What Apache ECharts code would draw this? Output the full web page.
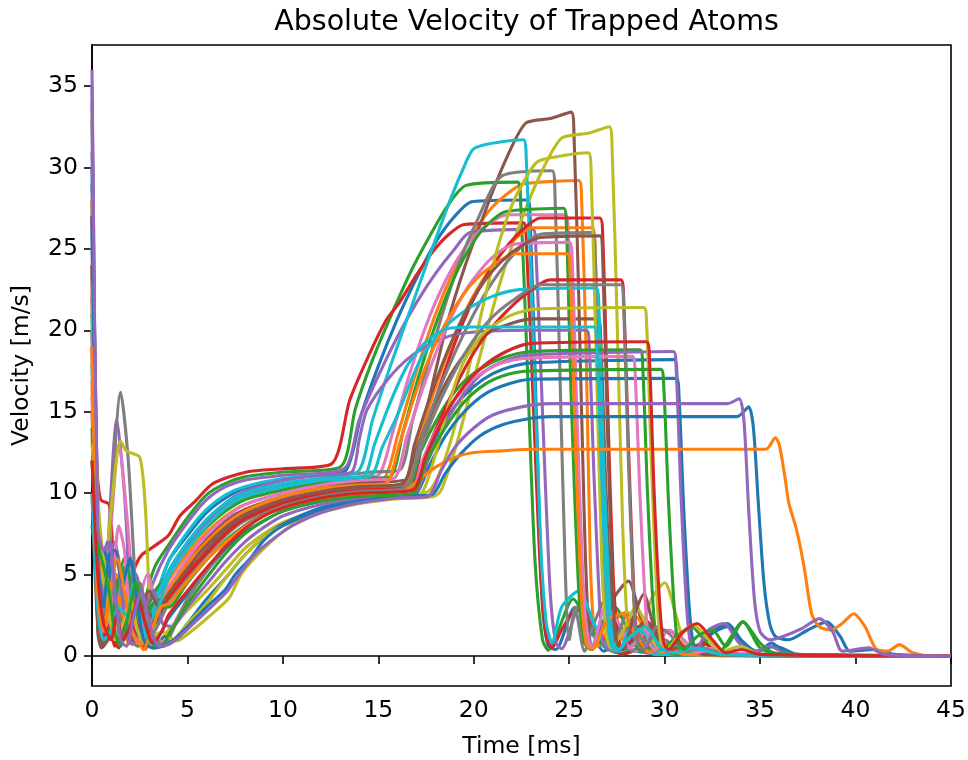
<!DOCTYPE html>
<html><head><meta charset="utf-8">
<script src="https://cdn.jsdelivr.net/npm/echarts@6/dist/echarts.min.js"></script>
<style>html,body{margin:0;padding:0;background:#fff}#c{width:968px;height:760px}</style>
</head><body><div id="c"></div>
<script>
const xTicks = [0,5,10,15,20,25,30,35,40,45];
const yTicks = [0,5,10,15,20,25,30,35];

const blueH = [[0,30],[0.25,12],[0.5,5.5],[0.8,6.3],[1.1,4],[1.5,3.5],[1.9,6.5],[2.3,3],[2.7,1.2],[3.2,3.0],[4,5.8],[5,7.4],[6,8.8],[7,9.7],[8,10.3],[10,10.8],[12,11.2],[13.3,11.4],[14.1,14.8],[15,17.8],[16,20.7],[17,23.2],[18,25.4],[19,27.0],[19.9,27.9],[22.8,28.0],[22.95,27],[23.3,14],[23.6,3],[23.9,0.6],[24.3,0.4],[25.3,3.0],[26.3,1.2],[26.8,0.3],[27.5,0.6],[28.5,0.3],[30,0.1],[45,0]];
const orangeG = [[0,27],[0.3,6],[0.5,2.8],[0.9,4.5],[1.3,2.5],[1.8,5],[2.2,2],[2.6,0.6],[3,1.8],[3.5,3.5],[4,4.6],[5,6.3],[6,7.6],[7,8.6],[8,9.3],[10,10.0],[12,10.4],[14,10.7],[15.3,10.9],[16.0,13.5],[17.0,17.5],[18.0,21.0],[19.0,23.8],[20.0,26.0],[21.0,27.6],[22.0,28.6],[22.6,29.0],[25.5,29.2],[25.65,28],[25.9,18],[26.1,6],[26.3,1.5],[26.5,0.6],[27.2,2.0],[28.0,2.7],[28.8,1.2],[29.5,0.3],[30.5,0.6],[31.5,0.2],[33,0],[45,0]];
const greenF = [[0,24],[0.3,5],[0.6,3.5],[1.0,1.0],[1.3,3.5],[1.7,5.5],[2.0,3],[2.4,1.0],[2.8,3.5],[3.3,5.5],[4,6.8],[5,8.5],[6,9.9],[7,10.6],[8,11.0],[10,11.3],[13.0,11.6],[13.8,15.2],[14.7,18.2],[15.7,21.0],[16.7,23.6],[17.7,25.8],[18.6,27.6],[19.6,28.9],[22.3,29.1],[22.45,28],[22.8,18],[23.2,6],[23.6,1],[23.9,0.35],[24.4,1.5],[25.2,3.5],[26.0,2.0],[26.8,0.6],[27.5,0.2],[28.5,0.4],[30,0.1],[45,0]];
const redK = [[0,27],[0.25,12],[0.45,9.6],[0.9,9.3],[1.1,6],[1.3,1.0],[1.6,1.5],[2.0,4.5],[2.3,5.6],[2.6,6.2],[3.2,6.7],[4.0,7.4],[4.6,8.6],[5.4,9.5],[6.35,10.6],[8.1,11.3],[10,11.5],[12.55,11.8],[13.5,15.7],[14.4,18.2],[15.4,20.6],[16.1,21.7],[17.0,23.4],[17.9,24.9],[18.7,25.9],[19.5,26.5],[22.6,26.6],[22.75,25.5],[23.1,16],[23.5,5],[23.8,1.2],[24.1,0.5],[24.6,1.6],[25.4,2.9],[26.3,1.8],[27.2,0.5],[27.8,0.1],[28.9,0.5],[30,0.1],[45,0]];
const purpleM = [[0,36],[0.3,5],[0.5,1.2],[0.8,6],[1.3,14.5],[1.7,10],[2.0,4],[2.3,1.0],[2.7,2.5],[3.2,4.5],[4,6.5],[5,8.2],[6,9.6],[7,10.4],[8,10.8],[10,11.1],[13.2,11.5],[14.0,14.5],[15.0,17.2],[16.0,19.6],[17.0,21.7],[18.0,23.5],[19.0,25.0],[19.8,26.0],[23.1,26.2],[23.25,25],[23.6,15],[24.0,4],[24.3,0.8],[24.6,0.45],[25.6,3.2],[26.5,1.5],[27.3,0.3],[28.2,0.8],[29,0.2],[45,0]];
const brownA = [[0,22],[0.3,4],[0.5,0.5],[0.8,2],[1.2,5],[1.6,2],[2.0,0.8],[2.5,1.2],[3.0,2.5],[3.5,3.5],[4,4.2],[5,5.8],[6,7.2],[7,8.3],[8,9.0],[10,9.8],[12,10.3],[14,10.6],[16.6,10.9],[17.3,14.0],[18.0,17.5],[18.6,20.4],[19.5,23.8],[20.5,27.0],[21.5,30.0],[22.7,32.7],[24.0,33.0],[25.1,33.4],[25.25,32],[25.5,22],[25.8,8],[26.0,2],[26.2,0.4],[26.7,1.5],[27.3,3.5],[28.1,4.6],[28.7,2.5],[29.3,0.3],[30.3,0.8],[31.2,0.1],[45,0]];
const pinkJ = [[0,25],[0.3,6],[0.6,2.0],[1.0,8],[1.4,13],[1.8,9],[2.2,3.5],[2.6,1.0],[3.0,1.5],[3.6,3.5],[4,4.8],[5,6.6],[6,8.0],[7,9.0],[8,9.7],[10,10.3],[12,10.7],[14,11.0],[15.0,11.1],[15.7,13.5],[16.5,16.8],[17.5,20.3],[18.5,23.0],[19.5,25.0],[20.5,26.3],[21.8,27.1],[24.8,27.1],[24.95,26],[25.3,16],[25.7,4],[26.0,0.8],[26.3,0.5],[27.0,2.5],[27.8,1.0],[28.5,0.3],[29.5,1.2],[30.5,0.2],[45,0]];
const grayE = [[0,33],[0.35,3],[0.6,1.0],[1.0,9],[1.5,16.2],[1.9,12],[2.3,4],[2.6,1.2],[3.0,2.0],[3.5,3.8],[4,5.0],[5,6.8],[6,8.2],[7,9.2],[8,9.9],[10,10.5],[12,10.9],[14.6,11.3],[16.1,11.4],[16.8,14.5],[17.5,17.5],[18.3,20.8],[19.2,24.0],[20.2,26.8],[21.5,29.5],[24.1,29.8],[24.25,28.5],[24.5,18],[24.8,5],[25.0,1],[25.3,3.0],[25.8,0.3],[26.3,2],[27.0,3.7],[27.7,1.5],[28.3,0.3],[29,1.0],[30,0.1],[45,0]];
const oliveB = [[0,20],[0.3,8],[0.6,4],[1.0,9],[1.5,13.2],[1.8,12.6],[2.5,12.2],[2.8,9],[3.1,2],[3.5,1.0],[4.0,0.9],[4.6,1.0],[5.5,1.8],[6.5,2.8],[7.2,3.6],[7.8,5.0],[8.5,6.0],[9.85,7.5],[11,8.4],[13.3,9.2],[15.5,9.6],[17.9,9.8],[18.3,10.2],[19.1,13.0],[20.0,17.0],[21.4,23.0],[22.5,26.8],[23.5,29.6],[24.6,31.8],[26.0,32.1],[27.1,32.5],[27.25,31],[27.5,21],[27.8,8],[28.05,2],[28.3,0.7],[28.7,1.2],[29.3,3.5],[30.0,4.5],[30.6,2.5],[31.2,0.4],[32,0.8],[33,0.1],[45,0]];
const cyanC = [[0,18],[0.3,3],[0.6,1.5],[0.9,1.8],[1.3,4],[1.7,3],[2.1,5],[2.5,2],[2.8,0.8],[3.2,3],[4,5.8],[5,7.6],[6,9.0],[7,9.9],[8,10.4],[10,10.9],[12,11.1],[13.9,11.3],[14.7,14.5],[15.6,17.7],[16.6,21.0],[17.6,24.3],[18.6,27.5],[19.4,29.8],[20.06,31.2],[22.6,31.7],[22.75,30.5],[23.1,20],[23.5,7],[23.8,2],[24.1,0.8],[24.6,3.0],[25.5,4.0],[26.3,2.0],[27.0,0.5],[27.7,0.3],[28.5,0.8],[29.5,0.1],[45,0]];
const blueCC = [[0,29],[0.25,10],[0.5,6.5],[0.8,5],[1.2,2.5],[1.6,4],[2.0,5.8],[2.4,3],[2.8,1.0],[3.3,1.0],[4,2.3],[5,3.8],[6,5.2],[7,6.6],[8,7.6],[9,8.3],[10,8.9],[12,9.5],[14,9.9],[16.6,10.2],[17.5,12.3],[18.5,14.5],[19.5,16.0],[20.5,17.0],[21.5,17.6],[23,18.0],[30.5,18.2],[30.65,17],[30.9,10],[31.2,3],[31.4,0.8],[31.7,0.5],[32.5,1.5],[33.3,2.0],[34.0,1.0],[34.8,0.3],[35.8,0.6],[37,0.1],[45,0]];
const orangeN = [[0,17],[0.3,3],[0.5,1.5],[0.9,3.5],[1.3,5],[1.7,2],[2.1,0.7],[2.5,1.5],[2.8,0.4],[3.3,2.0],[4,3.8],[5,5.2],[6,6.6],[7,7.8],[8,8.6],[10,9.5],[12,10.0],[14,10.3],[16.4,10.5],[17.0,12.8],[17.8,15.8],[18.7,18.8],[19.7,21.5],[20.7,23.5],[21.8,25.2],[23.1,26.3],[26.2,26.3],[26.35,25],[26.6,15],[26.9,4],[27.1,1],[27.3,0.4],[27.8,1.2],[28.5,2.4],[29.2,1.0],[29.8,0.2],[30.8,0.6],[32,0.1],[45,0]];
const greenI = [[0,21],[0.3,2],[0.5,0.8],[0.9,3],[1.3,6],[1.6,4],[2.0,1.0],[2.4,0.6],[2.8,2.5],[3.3,4.0],[4,5.0],[5,6.6],[6,7.9],[7,8.9],[8,9.6],[10,10.2],[12,10.6],[14,10.9],[15.6,11.0],[16.3,13.8],[17.2,17.5],[18.2,21.0],[19.2,23.8],[20.2,25.8],[21.0,26.8],[21.7,27.3],[24.7,27.5],[24.85,26.5],[25.1,16],[25.5,4],[25.8,0.8],[26.1,0.4],[26.7,2.0],[27.4,3.0],[28.1,1.5],[28.8,0.3],[29.6,0.6],[30.5,0.1],[45,0]];
const redL = [[0,15],[0.3,4],[0.5,1.0],[0.8,2.5],[1.1,1.0],[1.4,0.5],[1.8,2.5],[2.2,1.0],[2.6,0.6],[3.1,1.5],[3.6,3.0],[4,3.7],[5,5.2],[6,6.4],[7,7.6],[8,8.5],[10,9.4],[12,9.9],[14,10.2],[16.6,10.4],[17.3,13.0],[18.2,16.5],[19.2,19.8],[20.2,22.4],[21.3,24.5],[22.4,26.0],[23.5,26.9],[26.6,26.9],[26.75,26],[27.0,16],[27.3,5],[27.55,1.2],[27.8,0.4],[28.3,1.0],[29.0,2.2],[29.7,1.2],[30.3,0.2],[31.0,0.5],[32,0.1],[45,0]];
const purpleX = [[0,31],[0.3,7],[0.5,5.5],[0.8,7],[1.1,4],[1.5,1.0],[1.9,3],[2.3,5],[2.7,3],[3.0,1.5],[3.5,3.5],[4,5.0],[5,6.8],[6,8.3],[7,9.4],[8,10.1],[10,10.8],[12,11.1],[13.6,11.3],[14.0,13.3],[14.4,15.1],[15.5,17.0],[16.7,18.4],[18.0,19.3],[19.3,19.8],[22.9,20.0],[25.9,20.0],[26.05,19],[26.3,11],[26.6,3],[26.8,0.7],[27.1,0.4],[27.8,1.7],[28.5,1.0],[29.2,0.2],[30.2,0.8],[31.2,0.1],[45,0]];
const brownV = [[0,19],[0.3,1.5],[0.5,0.5],[0.8,1.0],[1.2,3.5],[1.6,2.5],[2.0,0.8],[2.4,2.0],[2.8,3.2],[3.3,2.0],[4,3.5],[5,5.0],[6,6.5],[7,7.7],[8,8.5],[10,9.5],[12,10.0],[14,10.3],[16.3,10.6],[16.9,12.4],[17.8,15.0],[18.8,17.3],[19.8,18.9],[21.0,20.0],[23.1,20.7],[26.5,20.7],[26.65,19.5],[26.9,11],[27.2,3],[27.4,0.8],[27.7,0.4],[28.3,1.5],[29.0,2.0],[29.7,0.8],[30.3,0.2],[31,0.5],[32,0.1],[45,0]];
const pinkP = [[0,16],[0.3,5],[0.6,2.5],[1.0,4],[1.3,6.5],[1.7,3],[2.1,1.2],[2.5,3.5],[2.9,5.0],[3.4,3.5],[4,4.2],[5,6.0],[6,7.4],[7,8.5],[8,9.3],[10,10.0],[12,10.5],[14,10.8],[15.8,10.9],[16.5,13.5],[17.5,17.0],[18.5,20.0],[19.5,22.3],[20.5,23.9],[21.3,24.8],[22.2,25.3],[25.0,25.4],[25.15,24.5],[25.4,15],[25.75,4],[26.0,1.0],[26.2,0.5],[26.9,3.0],[27.6,2.0],[28.2,0.5],[29,1.5],[29.8,0.4],[30.6,0.2],[45,0]];
const grayO = [[0,28],[0.3,5],[0.6,4],[1.0,2.0],[1.4,1.0],[1.8,3.5],[2.2,5.2],[2.6,3],[3.0,1.0],[3.5,2.0],[4,3.2],[5,4.8],[6,6.2],[7,7.4],[8,8.3],[10,9.3],[12,9.9],[14,10.3],[16.5,10.5],[17.1,12.8],[18.0,15.8],[19.0,18.6],[20.0,21.0],[21.0,23.0],[22.2,24.8],[23.5,25.9],[26.2,26.0],[26.35,25],[26.6,15],[26.9,4],[27.1,1.0],[27.3,0.4],[28.0,2.5],[28.6,1.5],[29.2,0.3],[30,1.0],[31,0.1],[45,0]];
const oliveD = [[0,22],[0.3,10],[0.6,6],[1.0,3.5],[1.4,1.0],[1.8,2.5],[2.2,1.2],[2.6,0.7],[3.1,1.5],[3.6,1.0],[4,1.6],[5,2.8],[6,4.0],[7,5.3],[8,6.6],[9,7.5],[10,8.2],[12,9.0],[14,9.5],[16.0,9.8],[17.6,10.1],[18.3,11.5],[19.1,14.5],[20.0,19.0],[21.0,24.0],[21.9,27.4],[22.7,29.3],[23.4,30.4],[26.0,30.9],[26.15,29.5],[26.4,19],[26.7,6],[26.95,1.2],[27.2,0.5],[27.8,1.5],[28.5,3.0],[29.2,1.5],[29.8,0.3],[30.6,0.9],[31.5,0.1],[45,0]];
const cyanT = [[0,26],[0.3,6],[0.6,1.8],[0.9,1.5],[1.3,3],[1.7,5],[2.1,5.2],[2.5,2.5],[2.9,1.0],[3.4,3.5],[4,5.2],[5,7.0],[6,8.4],[7,9.4],[8,10.0],[10,10.6],[12,10.9],[14.6,11.1],[15.2,12.8],[16.0,14.8],[17.2,18.2],[18.5,20.2],[19.8,21.4],[21.0,22.1],[22.4,22.5],[26.4,22.6],[26.55,21.5],[26.8,12],[27.1,3.5],[27.3,0.8],[27.6,0.4],[28.3,1.8],[29.0,1.3],[29.6,0.3],[30.5,0.7],[31.5,0.1],[45,0]];
const oliveU = [[0,13],[0.3,9],[0.6,5],[0.9,2.5],[1.2,1.0],[1.6,2.0],[2.0,3.5],[2.4,1.5],[2.8,0.8],[3.2,1.2],[3.7,1.5],[4.2,1.0],[5,2.0],[6,3.2],[7,4.8],[8,6.2],[9,7.3],[10,8.0],[12,8.9],[14,9.4],[16,9.7],[17.2,9.9],[17.9,12.0],[18.7,15.5],[19.45,18.0],[20.5,19.8],[21.9,20.9],[23.2,21.3],[28.9,21.4],[29.05,20.5],[29.3,12],[29.6,3.5],[29.8,0.9],[30.1,0.4],[30.7,1.2],[31.5,1.9],[32.3,1.0],[33.0,0.3],[34,0.6],[35,0.1],[45,0]];
const cyanW = [[0,10],[0.3,3],[0.6,1.0],[1.0,1.5],[1.4,3],[1.8,2.5],[2.2,4.5],[2.6,2.5],[3.0,1.2],[3.5,3.0],[4,4.8],[5,6.6],[6,8.0],[7,9.1],[8,9.8],[10,10.4],[12,10.8],[14.2,11.0],[14.8,13.0],[15.6,15.5],[16.5,17.8],[17.5,19.3],[18.6,20.1],[20,20.2],[26.3,20.2],[26.45,19],[26.7,11],[27.0,3],[27.2,0.7],[27.5,0.3],[28.2,1.2],[29,1.8],[29.8,0.5],[30.5,0.2],[31.5,0.5],[33,0.1],[45,0]];
const orangeQ = [[0,28],[0.3,8],[0.5,3.5],[0.8,2.5],[1.1,4.5],[1.5,3],[1.9,0.8],[2.3,2.5],[2.7,0.4],[3.1,1.5],[3.6,3.2],[4,4.0],[5,5.7],[6,7.0],[7,8.1],[8,8.9],[10,9.8],[12,10.3],[14,10.5],[15.4,10.6],[16.1,13.0],[17.0,16.3],[18.0,19.2],[19.0,21.4],[20.0,23.0],[21.0,24.0],[22.2,24.7],[24.9,24.7],[25.05,23.5],[25.3,14],[25.65,3.5],[25.9,0.7],[26.2,0.4],[27.0,2.2],[27.8,2.6],[28.5,1.2],[29.2,0.2],[30,0.7],[31,0.1],[45,0]];
const greenZ = [[0,14],[0.3,2],[0.5,1.0],[0.9,1.5],[1.3,4.0],[1.7,6.0],[2.1,4.0],[2.5,1.5],[2.9,2.5],[3.4,3.5],[4,3.0],[5,4.5],[6,5.9],[7,7.1],[8,8.0],[9,8.7],[10,9.2],[12,9.8],[14,10.1],[16.5,10.3],[17.2,12.5],[18.2,14.8],[19.2,16.5],[20.3,17.6],[21.5,18.3],[23,18.7],[28.7,18.8],[28.85,17.8],[29.1,10],[29.4,3],[29.6,0.8],[29.9,0.4],[30.6,1.2],[31.4,1.8],[32.2,0.8],[32.8,0.2],[34.1,2.1],[35.0,0.5],[36,0.1],[45,0]];
const redR = [[0,24],[0.3,4],[0.6,1.2],[0.9,2.0],[1.2,0.6],[1.5,1.8],[1.9,3.0],[2.3,1.0],[2.7,0.5],[3.2,2.0],[3.7,3.2],[4,3.6],[5,5.0],[6,6.3],[7,7.5],[8,8.4],[10,9.4],[12,9.9],[14,10.2],[16.8,10.4],[17.5,12.5],[18.5,15.2],[19.5,17.6],[20.5,19.5],[21.5,20.9],[22.7,22.2],[24.0,23.1],[27.7,23.1],[27.85,22],[28.1,13],[28.4,3.5],[28.6,0.8],[28.9,0.4],[29.6,1.6],[30.4,1.5],[31.2,0.3],[32,0.8],[33,0.1],[45,0]];
const grayS = [[0,34],[0.3,3],[0.6,2.5],[0.9,4.5],[1.3,3],[1.7,1.0],[2.1,2.5],[2.5,4.5],[2.9,2.5],[3.4,1.0],[3.8,0.6],[4.2,1.5],[5,3.5],[6,5.2],[7,6.8],[8,8.0],[9,8.7],[10,9.2],[12,9.8],[14,10.1],[16.4,10.3],[17.0,12.0],[17.8,14.5],[18.7,16.8],[19.7,18.9],[20.8,20.6],[22.0,21.8],[23.5,22.8],[27.7,22.8],[27.85,21.5],[28.1,12],[28.4,3],[28.6,0.7],[28.9,0.4],[29.6,1.8],[30.3,1.3],[31,0.3],[32,0.5],[33,0.1],[45,0]];
const redY = [[0,12],[0.3,5],[0.6,2.0],[1.0,1.0],[1.3,2.5],[1.6,1.0],[2.0,1.8],[2.4,3.5],[2.8,2.0],[3.2,0.8],[3.7,1.6],[4,2.5],[5,4.0],[6,5.4],[7,6.7],[8,7.8],[9,8.6],[10,9.1],[12,9.7],[14,10.0],[16.8,10.2],[17.5,12.3],[18.5,14.8],[19.5,16.6],[20.5,17.8],[21.7,18.7],[23,19.2],[29.05,19.3],[29.2,18.3],[29.45,10],[29.75,3],[29.95,0.8],[30.2,0.4],[30.9,1.4],[31.7,2.0],[32.5,1.0],[33.2,0.2],[34,0.4],[35,0.1],[45,0]];
const purpleAA = [[0,20],[0.3,6],[0.6,3.5],[0.9,6.0],[1.2,7.0],[1.5,4.5],[1.9,1.0],[2.3,0.7],[2.7,2.5],[3.2,4.0],[3.7,2.0],[4.2,1.8],[5,3.0],[6,4.4],[7,5.8],[8,7.0],[9,7.9],[10,8.6],[12,9.3],[14,9.7],[16.9,10.0],[17.6,12.0],[18.6,14.5],[19.6,16.3],[20.6,17.5],[21.8,18.2],[23,18.5],[30.45,18.7],[30.6,17.7],[30.85,10],[31.15,3],[31.35,0.8],[31.6,0.4],[32.3,1.6],[33.1,2.0],[33.9,0.8],[34.6,0.2],[35.5,0.6],[36.5,0.1],[45,0]];
const pinkBB = [[0,23],[0.3,4],[0.6,1.5],[1.0,3.0],[1.4,8.0],[1.7,6.5],[2.0,2.0],[2.4,0.8],[2.8,2.5],[3.3,1.2],[3.8,0.8],[4.3,2.0],[5,3.5],[6,5.2],[7,6.8],[8,7.9],[9,8.6],[10,9.1],[12,9.6],[14,9.9],[16.7,10.1],[17.3,12.0],[18.3,14.4],[19.3,16.2],[20.3,17.3],[21.5,18.0],[23,18.3],[28.3,18.4],[28.45,17.4],[28.7,10],[29.0,3],[29.2,0.8],[29.5,0.4],[30.2,1.6],[31.0,1.0],[31.7,0.2],[32.5,0.5],[33.5,0.1],[45,0]];
const greenDD = [[0,12],[0.3,7],[0.6,5.5],[0.9,4.0],[1.2,1.5],[1.5,0.6],[1.9,2.5],[2.3,4.5],[2.7,2.5],[3.1,0.8],[3.6,0.6],[4.1,1.5],[5,3.2],[6,4.8],[7,6.3],[8,7.5],[9,8.3],[10,8.9],[12,9.5],[14,9.8],[16.8,10.0],[17.5,11.9],[18.5,14.0],[19.5,15.6],[20.6,16.7],[21.8,17.3],[23,17.5],[29.8,17.6],[29.95,16.6],[30.2,9.5],[30.5,3],[30.7,0.8],[31.0,0.4],[31.7,1.2],[32.5,1.6],[33.2,0.6],[34.1,2.1],[35,0.8],[35.7,0.2],[37,0.1],[45,0]];
const blueEE = [[0,8],[0.3,6],[0.6,6.5],[0.9,5.5],[1.2,3],[1.6,1.5],[2.0,3.5],[2.4,2.0],[2.8,0.7],[3.3,0.5],[3.8,1.2],[4.3,1.0],[5,2.0],[6,3.5],[7,4.8],[8,6.2],[9,7.3],[10,8.1],[12,9.1],[14,9.6],[16,9.8],[17.0,10.0],[17.6,11.5],[18.5,13.5],[19.5,15.0],[20.6,16.1],[21.8,16.7],[23,17.0],[30.6,17.05],[30.75,16],[31.0,9],[31.3,2.8],[31.5,0.8],[31.8,0.4],[32.5,1.4],[33.3,1.8],[34.1,0.8],[34.8,0.2],[35.6,0.8],[36.5,0.1],[45,0]];
const purpleFF = [[0,35],[0.3,8],[0.6,6.5],[0.9,7.0],[1.2,4],[1.5,1.0],[1.8,0.6],[2.2,2.5],[2.6,4.0],[3.0,2.0],[3.5,0.6],[4.0,0.7],[4.6,1.2],[5.5,2.2],[6.5,3.3],[7.1,4.0],[7.7,5.0],[8.5,6.2],[9.5,7.2],[10.5,8.0],[12,8.8],[14,9.4],[16,9.7],[17.6,9.8],[18.3,11.4],[19.0,12.8],[20.0,14.0],[21.0,14.8],[22.5,15.3],[24,15.5],[33.3,15.5],[33.9,15.8],[34.15,14.5],[34.4,9],[34.7,3.5],[35.0,1.5],[35.5,1.0],[36.2,1.2],[37.2,1.7],[38.1,2.3],[38.8,1.5],[39.3,0.3],[40.7,0.5],[41.5,0.1],[45,0]];
const blueGG = [[0,27],[0.3,6],[0.6,3],[0.9,6.2],[1.2,6.5],[1.6,4.5],[2.0,6.0],[2.3,4.0],[2.7,1.0],[3.2,0.5],[3.7,0.6],[4.3,1.0],[5,1.8],[6,3.0],[7,4.1],[7.5,5.0],[8.3,6.0],[9.0,7.1],[10,8.0],[12,9.0],[14,9.5],[16,9.8],[17.8,9.9],[18.5,11.2],[19.3,12.4],[20.3,13.5],[21.5,14.2],[23,14.6],[24,14.7],[33.8,14.7],[34.4,15.3],[34.65,14],[34.9,9.5],[35.2,4.5],[35.5,2.0],[35.8,1.2],[36.5,1.0],[37.5,1.6],[38.5,2.1],[39.2,1.2],[39.7,0.3],[41.0,0.4],[42,0.1],[45,0]];
const orangeHH = [[0,19],[0.3,4],[0.6,1.5],[0.9,3.5],[1.3,6.0],[1.7,4.0],[2.1,1.5],[2.5,0.7],[2.7,0.4],[3.1,1.5],[3.6,3.0],[4,3.2],[5,4.6],[6,5.9],[7,7.0],[8,7.9],[9,8.6],[10,9.1],[12,9.6],[14,9.9],[16.3,10.1],[17.0,10.7],[18.0,11.6],[19.0,12.2],[20.0,12.5],[21.5,12.6],[23,12.7],[35.3,12.7],[35.8,13.4],[36.0,13.0],[36.3,11.0],[36.5,9.4],[36.9,7.8],[37.3,5.5],[37.7,2.6],[38.1,1.8],[38.7,1.6],[39.3,2.0],[39.9,2.6],[40.5,1.8],[41.1,0.4],[41.7,0.3],[42.3,0.7],[43.0,0.2],[44,0],[45,0]];
const brownW = [[0,10],[0.3,2],[0.6,0.6],[1.0,1.2],[1.4,0.8],[1.8,2.0],[2.2,1.0],[2.6,2.8],[3.0,4.0],[3.5,3.0],[4,3.8],[5,5.4],[6,6.8],[7,7.9],[8,8.7],[10,9.6],[12,10.1],[14,10.4],[16.3,10.6],[16.9,13.0],[17.8,16.2],[18.8,19.2],[19.8,21.6],[20.8,23.4],[22.0,24.8],[23.5,25.7],[26.6,25.8],[26.75,24.5],[27.0,14],[27.3,3.5],[27.5,0.8],[27.8,0.4],[28.4,2.5],[28.9,3.8],[29.5,1.5],[30.1,0.3],[31,0.6],[32,0.1],[45,0]];

const C = {blue:'#1f77b4',orange:'#ff7f0e',green:'#2ca02c',red:'#d62728',purple:'#9467bd',brown:'#8c564b',pink:'#e377c2',gray:'#7f7f7f',olive:'#bcbd22',cyan:'#17becf'};
const lines = [
  [blueH,C.blue],[orangeG,C.orange],[greenF,C.green],[redK,C.red],[purpleM,C.purple],[brownA,C.brown],[pinkJ,C.pink],[grayE,C.gray],[oliveB,C.olive],[cyanC,C.cyan],
  [blueCC,C.blue],[orangeN,C.orange],[greenI,C.green],[redL,C.red],[purpleX,C.purple],[brownV,C.brown],[pinkP,C.pink],[grayO,C.gray],[oliveD,C.olive],[cyanT,C.cyan],
  [blueEE,C.blue],[orangeQ,C.orange],[greenZ,C.green],[redR,C.red],[purpleAA,C.purple],[brownW,C.brown],[pinkBB,C.pink],[grayS,C.gray],[oliveU,C.olive],[cyanW,C.cyan],
  [blueGG,C.blue],[orangeHH,C.orange],[greenDD,C.green],[redY,C.red],[purpleFF,C.purple]
];

const FONT = 'DejaVu Sans';
const chart = echarts.init(document.getElementById('c'), null, {renderer:'canvas'});
chart.setOption({
  animation:false,
  backgroundColor:'#ffffff',
  title:{text:'Absolute Velocity of Trapped Atoms',left:521.5,top:3,textAlign:'center',
    textStyle:{fontFamily:FONT,fontSize:28.5,fontWeight:'normal',color:'#000'}},
  grid:{left:92,right:17,top:45,bottom:74,containLabel:false,outerBoundsMode:'none',
    show:true,borderColor:'#000',borderWidth:1.6,backgroundColor:'transparent'},
  xAxis:{type:'value',min:0,max:45,interval:5,
    name:'Time [ms]',nameLocation:'middle',nameGap:49,
    nameTextStyle:{fontFamily:FONT,fontSize:23.5,color:'#000'},
    axisLine:{show:true,lineStyle:{color:'#000',width:1.6}},
    axisTick:{show:true,length:8,lineStyle:{color:'#000',width:1.6}},
    axisLabel:{fontFamily:FONT,fontSize:23.5,color:'#000',margin:13},
    splitLine:{show:false}},
  yAxis:{type:'value',min:-1.84,max:37.52,
    name:'Velocity [m/s]',nameLocation:'middle',nameGap:58,
    nameTextStyle:{fontFamily:FONT,fontSize:23.5,color:'#000'},
    axisLine:{show:true,lineStyle:{color:'#000',width:1.6}},
    axisTick:{show:true,length:8,customValues:yTicks,lineStyle:{color:'#000',width:1.6}},
    axisLabel:{fontFamily:FONT,fontSize:23.5,color:'#000',margin:14,customValues:yTicks},
    splitLine:{show:false}},
  series: lines.map(([d,col]) => ({type:'line',data:d,showSymbol:false,symbol:'none',smooth:0.25,
    lineStyle:{width:3.1,color:col},itemStyle:{color:col},clip:true,silent:true}))
});
</script></body></html>
